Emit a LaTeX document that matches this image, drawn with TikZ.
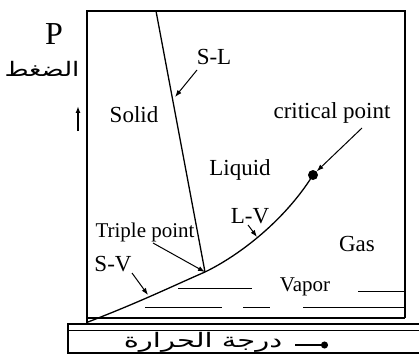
\documentclass[tikz,border=0pt]{standalone}
\usepackage{fontspec}
\usepackage{graphicx}
\setmainfont{Liberation Serif}
\newfontfamily\arabicfont[Script=Arabic]{DejaVu Sans}
\TeXXeTstate=1
\usetikzlibrary{arrows.meta}

\begin{document}
\begin{tikzpicture}[
  x=1pt,y=-1pt,
  >={Latex[length=7pt,width=5pt]},
  lab/.style={font=\fontsize{23}{26}\selectfont,inner sep=0pt,anchor=base},
  small/.style={font=\fontsize{21}{24}\selectfont,inner sep=0pt,anchor=base},
  arab/.style={font=\arabicfont\fontsize{20}{22}\selectfont,inner sep=0pt,anchor=base},
  axis/.style={line width=1.4pt},
  ptr/.style={->,line width=1pt},
  curve/.style={line width=1.3pt}]

  \useasboundingbox (0,0) rectangle (419,358);

  % ---- frame ----
  \draw[axis] (87,323) -- (87,11) -- (405,11) -- (405,318);
  \draw[axis] (87,318) -- (405,318);
  \draw[axis] (419,324) -- (68,324) -- (68,353) -- (419,353);
  \draw[line width=1pt] (68,330) -- (419,330);

  % ---- phase lines ----
  \coordinate (orig) at (88,322);
  \coordinate (tp) at (205,272);
  \coordinate (cptop) at (156,11);
  \node[circle,fill=black,inner sep=0pt,minimum size=10pt] (cp) at (313,175) {};

  \draw[curve] (cptop) -- (tp);
  \draw[curve] (orig) .. controls (140,302) and (175,285) .. (tp)
    .. controls (240,255) and (285,220) .. (cp.center);

  % vapor lines
  \draw[line width=1pt] (178,288) -- (252,288);
  \draw[line width=1pt] (358,291) -- (405,291);
  \draw[line width=1pt] (145,307) -- (222,307);
  \draw[line width=1pt] (243,307) -- (270,307);
  \draw[line width=1pt] (303,307) -- (405,307);

  % ---- region labels ----
  \node[lab] (solid) at (134,123) {Solid};
  \node[lab] (liquid) at (240,175) {Liquid};
  \node[lab] (gas) at (357,251) {Gas};
  \node[small] (vapor) at (305,291) {Vapor};

  % ---- line labels and pointers ----
  \node[lab] (sl) at (214,65) {S-L};
  \coordinate (slfrom) at (197,70);
  \coordinate (slpt) at (175,97);
  \draw[ptr] (slfrom) -- (slpt);

  \node[lab] (crit) at (332,118) {critical point};
  \coordinate (critfrom) at (362,128);
  \draw[ptr] (critfrom) -- (cp.north east);

  \node[lab] (lv) at (250,223) {L-V};
  \coordinate (lvfrom) at (248,225);
  \coordinate (lvpt) at (257,237);
  \draw[ptr] (lvfrom) -- (lvpt);

  \node[small] (triple) at (145,237) {Triple point};
  \coordinate (tpfrom) at (153,243);
  \draw[ptr] (tpfrom) -- (tp);

  \node[lab] (sv) at (113,271) {S-V};
  \coordinate (svfrom) at (132,273);
  \coordinate (svpt) at (148,295);
  \draw[ptr] (svfrom) -- (svpt);

  % ---- axes ----
  \node[font=\fontsize{32}{34}\selectfont,inner sep=0pt,anchor=base] (p) at (54,45) {P};
  \node[arab] (press) at (42,77) {\scalebox{1.3}[1]{\beginR الضغط\endR}};
  \coordinate (upA) at (78,131);
  \coordinate (upB) at (78,106);
  \draw[->,line width=1.4pt] (upA) -- (upB);

  \node[arab] (temp) at (203,347) {\scalebox{1.45}[1]{\beginR درجة الحرارة\endR}};
  \coordinate (rtA) at (295,345);
  \coordinate (rtB) at (328,345);
  \draw[-{Circle[length=7pt]},line width=1.3pt] (rtA) -- (rtB);
\end{tikzpicture}
\end{document}
